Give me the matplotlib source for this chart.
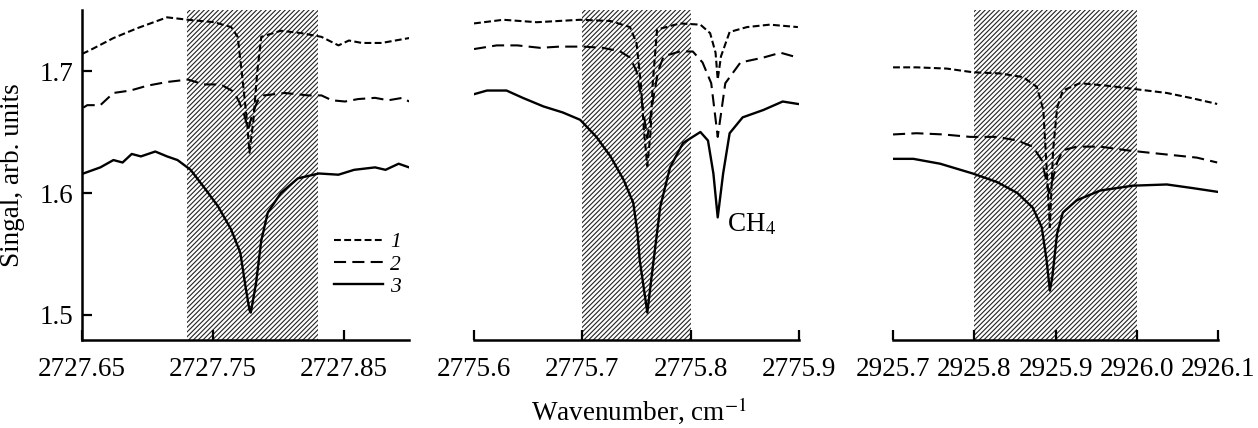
import matplotlib
matplotlib.use("Agg")
import matplotlib.pyplot as plt

plt.rcParams['font.family'] = ['Liberation Serif', 'DejaVu Serif']
plt.rcParams['mathtext.fontset'] = 'stix'
plt.rcParams['hatch.linewidth'] = 0.8

# ---- panel 1 : 2727.65 - 2727.90 ----
p1_x1 = [2727.650, 2727.656, 2727.674, 2727.692, 2727.715, 2727.731, 2727.751, 2727.764, 2727.769,
         2727.772, 2727.776, 2727.778, 2727.781, 2727.784, 2727.787, 2727.802, 2727.818, 2727.833,
         2727.846, 2727.854, 2727.864, 2727.879, 2727.900]
p1_y1 = [1.714, 1.717, 1.727, 1.735, 1.744, 1.742, 1.740, 1.736, 1.728,
         1.700, 1.660, 1.633, 1.660, 1.700, 1.728, 1.733, 1.731, 1.728,
         1.721, 1.725, 1.723, 1.723, 1.727]
p1_x2 = [2727.651, 2727.654, 2727.664, 2727.674, 2727.687, 2727.700, 2727.715, 2727.731, 2727.743,
         2727.756, 2727.766, 2727.770, 2727.774, 2727.777, 2727.780, 2727.784, 2727.789, 2727.805,
         2727.823, 2727.833, 2727.841, 2727.851, 2727.861, 2727.874, 2727.884, 2727.895, 2727.900]
p1_y2 = [1.670, 1.672, 1.672, 1.682, 1.684, 1.688, 1.691, 1.693, 1.689,
         1.689, 1.683, 1.675, 1.664, 1.652, 1.664, 1.675, 1.680, 1.682,
         1.680, 1.680, 1.676, 1.675, 1.677, 1.678, 1.676, 1.678, 1.675]
p1_x3 = [2727.651, 2727.664, 2727.674, 2727.681, 2727.688, 2727.695, 2727.706, 2727.715, 2727.723,
         2727.733, 2727.743, 2727.754, 2727.764, 2727.771, 2727.775, 2727.778, 2727.779, 2727.783,
         2727.787, 2727.792, 2727.802, 2727.815, 2727.831, 2727.846, 2727.858, 2727.874, 2727.882,
         2727.892, 2727.900]
p1_y3 = [1.616, 1.621, 1.627, 1.625, 1.632, 1.630, 1.634, 1.630, 1.627,
         1.619, 1.605, 1.589, 1.570, 1.551, 1.523, 1.504, 1.502, 1.526,
         1.561, 1.584, 1.600, 1.612, 1.616, 1.615, 1.619, 1.621, 1.619,
         1.624, 1.621]

# ---- panel 2 : 2775.6 - 2775.9 ----
p2_x1 = [2775.600, 2775.627, 2775.658, 2775.698, 2775.726, 2775.744, 2775.750, 2775.754, 2775.757,
         2775.760, 2775.763, 2775.765, 2775.769, 2775.790, 2775.809, 2775.818, 2775.823, 2775.825,
         2775.828, 2775.836, 2775.852, 2775.873, 2775.899]
p2_y1 = [1.739, 1.742, 1.740, 1.742, 1.741, 1.736, 1.723, 1.690, 1.650,
         1.622, 1.650, 1.690, 1.734, 1.739, 1.738, 1.731, 1.715, 1.693,
         1.712, 1.732, 1.736, 1.738, 1.736]
p2_x2 = [2775.600, 2775.621, 2775.640, 2775.661, 2775.679, 2775.701, 2775.719, 2775.735, 2775.744,
         2775.750, 2775.755, 2775.760, 2775.765, 2775.770, 2775.775, 2775.790, 2775.802, 2775.811,
         2775.819, 2775.825, 2775.832, 2775.846, 2775.867, 2775.883, 2775.899]
p2_y2 = [1.718, 1.721, 1.721, 1.719, 1.720, 1.720, 1.719, 1.716, 1.711,
         1.700, 1.675, 1.645, 1.675, 1.700, 1.712, 1.716, 1.716, 1.707,
         1.690, 1.646, 1.690, 1.707, 1.711, 1.715, 1.711]
p2_x3 = [2775.600, 2775.612, 2775.630, 2775.645, 2775.664, 2775.682, 2775.698, 2775.713, 2775.726,
         2775.738, 2775.747, 2775.751, 2775.753, 2775.760, 2775.765, 2775.772, 2775.781, 2775.793,
         2775.809, 2775.816, 2775.821, 2775.825, 2775.830, 2775.836, 2775.848, 2775.867, 2775.885,
         2775.899]
p2_y3 = [1.681, 1.684, 1.684, 1.678, 1.671, 1.666, 1.660, 1.646, 1.630,
         1.611, 1.592, 1.567, 1.545, 1.502, 1.539, 1.589, 1.621, 1.641,
         1.650, 1.643, 1.616, 1.580, 1.616, 1.649, 1.662, 1.668, 1.675,
         1.673]

# ---- panel 3 : 2925.7 - 2926.1 ----
p3_x1 = [2925.700, 2925.729, 2925.766, 2925.798, 2925.832, 2925.860, 2925.877, 2925.885, 2925.889,
         2925.893, 2925.897, 2925.902, 2925.909, 2925.930, 2925.963, 2926.000, 2926.037, 2926.066,
         2926.099]
p3_y1 = [1.703, 1.703, 1.702, 1.699, 1.698, 1.695, 1.687, 1.668, 1.621,
         1.572, 1.635, 1.670, 1.684, 1.690, 1.688, 1.685, 1.682, 1.678,
         1.673]
p3_x2 = [2925.700, 2925.729, 2925.762, 2925.795, 2925.828, 2925.853, 2925.872, 2925.883, 2925.892,
         2925.902, 2925.909, 2925.926, 2925.955, 2925.988, 2926.016, 2926.045, 2926.074, 2926.099]
p3_y2 = [1.648, 1.649, 1.648, 1.646, 1.646, 1.643, 1.638, 1.627, 1.600,
         1.625, 1.635, 1.638, 1.638, 1.635, 1.633, 1.631, 1.629, 1.625]
p3_x3 = [2925.700, 2925.725, 2925.758, 2925.798, 2925.828, 2925.853, 2925.872, 2925.883, 2925.889,
         2925.893, 2925.896, 2925.902, 2925.909, 2925.926, 2925.955, 2925.995, 2926.037, 2926.069,
         2926.099]
p3_y3 = [1.628, 1.628, 1.624, 1.616, 1.609, 1.600, 1.588, 1.572, 1.545,
         1.520, 1.531, 1.567, 1.584, 1.594, 1.602, 1.606, 1.607, 1.604,
         1.601]

panels = [
    dict(x=[p1_x1, p1_x2, p1_x3], y=[p1_y1, p1_y2, p1_y3], xlim=(2727.65, 2727.90),
         ticks=[2727.65, 2727.75, 2727.85], labels=['2727.65', '2727.75', '2727.85'],
         band=(2727.73, 2727.83)),
    dict(x=[p2_x1, p2_x2, p2_x3], y=[p2_y1, p2_y2, p2_y3], xlim=(2775.6, 2775.9),
         ticks=[2775.6, 2775.7, 2775.8, 2775.9], labels=['2775.6', '2775.7', '2775.8', '2775.9'],
         band=(2775.7, 2775.8)),
    dict(x=[p3_x1, p3_x2, p3_x3], y=[p3_y1, p3_y2, p3_y3], xlim=(2925.7, 2926.1),
         ticks=[2925.7, 2925.8, 2925.9, 2926.0, 2926.1],
         labels=['2925.7', '2925.8', '2925.9', '2926.0', '2926.1'],
         band=(2925.8, 2926.0)),
]
series_names = ['1', '2', '3']
yticks = [1.5, 1.6, 1.7]
ylim = (1.4795, 1.75)

styles = [dict(ls=(0, (3.3, 1.6)), lw=1.5),
          dict(ls=(0, (5.8, 3.0)), lw=1.5),
          dict(ls='-', lw=1.7)]

fig = plt.figure(figsize=(12.58, 4.28), dpi=100)
lefts = [0.0652, 0.3768, 0.7099]
widths = [0.260, 0.2583, 0.2583]
axes = []
for i, p in enumerate(panels):
    ax = fig.add_axes([lefts[i], 0.2056, widths[i], 0.771])
    ax.axvspan(p['band'][0], p['band'][1], facecolor='white', edgecolor='#222222',
               hatch='///////', lw=0, zorder=1)
    for k in range(3):
        ax.plot(p['x'][k], p['y'][k], color='black', zorder=3, label=series_names[k], **styles[k])
    ax.set_xlim(*p['xlim'])
    ax.set_ylim(*ylim)
    ax.set_xticks(p['ticks'])
    ax.set_xticklabels(p['labels'])
    ax.spines['top'].set_visible(False)
    ax.spines['right'].set_visible(False)
    ax.spines['bottom'].set_linewidth(1.8)
    ax.spines['left'].set_linewidth(1.8)
    ax.tick_params(axis='both', direction='in', length=7, width=1.6, labelsize=19.5)
    ax.tick_params(axis='x', pad=12)
    if i == 0:
        ax.set_yticks(yticks)
        ax.set_yticklabels(['1.5', '1.6', '1.7'])
        ax.tick_params(axis='y', pad=6)
        ax.set_ylabel('Singal, arb. units', fontsize=19.5, labelpad=11)
    else:
        ax.spines['left'].set_visible(False)
        ax.set_yticks([])
    axes.append(ax)

# legend: curves 1, 2, 3
axes[0].legend(loc='lower right', bbox_to_anchor=(1.0, 0.105), frameon=False,
               prop={'family': 'Liberation Serif', 'style': 'italic', 'size': 15.5},
               handlelength=2.3, handletextpad=0.3, labelspacing=0.1, borderaxespad=0)

axes[1].text(2775.834, 1.574, 'CH$_4$', fontsize=19.5, ha='left', va='center', zorder=4)

fig.text(0.508, 0.040, 'Wavenumber, cm$^{-1}$', fontsize=19.5, ha='center', va='center')

fig.savefig('out.png', dpi=100)
